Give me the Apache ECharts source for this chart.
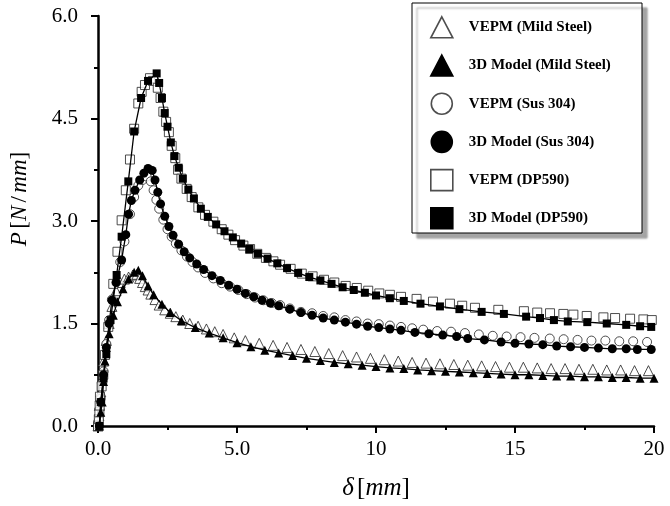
<!DOCTYPE html>
<html>
<head>
<meta charset="utf-8">
<script src="https://cdn.jsdelivr.net/npm/echarts@6/dist/echarts.min.js"></script>
<style>
html,body{margin:0;padding:0;background:#fff;}
#chart{width:670px;height:506px;}
</style>
</head>
<body>
<div id="chart"></div>
<script>
// ---- data (delta [mm], P [N/mm]) ----
var seriesNames = ['VEPM (Mild Steel)', '3D Model (Mild Steel)', 'VEPM (Sus 304)', '3D Model (Sus 304)', 'VEPM (DP590)', '3D Model (DP590)'];
var xTickLabels = ['0.0', '5.0', '10', '15', '20'];
var yTickLabels = ['0.0', '1.5', '3.0', '4.5', '6.0'];

var mildVepm = [[0,0],[0.03,0.15],[0.05,0.3],[0.1,0.5],[0.15,0.7],[0.2,0.95],[0.3,1.25],[0.4,1.5],[0.5,1.75],[0.65,1.98],[0.8,2.1],[0.95,2.15],[1.1,2.18],[1.25,2.21],[1.4,2.22],[1.5,2.16],[1.6,2.10],[1.7,2.04],[1.8,1.99],[1.9,1.93],[2.05,1.85],[2.2,1.77],[2.4,1.70],[2.6,1.65],[2.8,1.60],[3.05,1.55],[3.3,1.50],[3.6,1.46],[3.9,1.42],[4.2,1.38],[4.5,1.34],[4.9,1.29],[5.3,1.25],[5.8,1.21],[6.3,1.18],[6.8,1.15],[7.3,1.12],[7.8,1.09],[8.3,1.06],[8.8,1.03],[9.3,1.01],[9.8,0.99],[10.3,0.97],[10.8,0.95],[11.3,0.93],[11.8,0.92],[12.3,0.91],[12.8,0.90],[13.3,0.89],[13.8,0.88],[14.3,0.87],[14.8,0.86],[15.3,0.86],[15.8,0.85],[16.3,0.84],[16.8,0.84],[17.3,0.83],[17.8,0.83],[18.3,0.82],[18.8,0.82],[19.3,0.81],[19.8,0.81]];
var mildModel = [[0.05,0],[0.1,0.2],[0.15,0.35],[0.2,0.65],[0.25,0.95],[0.3,1.15],[0.4,1.35],[0.55,1.62],[0.7,1.82],[0.9,2.01],[1.1,2.15],[1.3,2.25],[1.45,2.28],[1.6,2.2],[1.8,2.05],[2.0,1.92],[2.3,1.78],[2.6,1.66],[3.0,1.54],[3.5,1.44],[4.0,1.36],[4.5,1.29],[5.0,1.22],[5.5,1.16],[6.0,1.11],[6.5,1.07],[7.0,1.03],[7.5,0.99],[8.0,0.96],[8.5,0.93],[9.0,0.91],[9.5,0.89],[10.0,0.87],[10.5,0.85],[11.0,0.84],[11.5,0.82],[12.0,0.81],[12.5,0.80],[13.0,0.79],[13.5,0.78],[14.0,0.77],[14.5,0.76],[15.0,0.75],[15.5,0.75],[16.0,0.74],[16.5,0.73],[17.0,0.73],[17.5,0.72],[18.0,0.72],[18.5,0.71],[19.0,0.71],[19.5,0.70],[20.0,0.70]];
var susVepm = [[0,0],[0.1,0.4],[0.2,0.8],[0.3,1.2],[0.4,1.55],[0.5,1.85],[0.65,2.1],[0.8,2.4],[0.95,2.7],[1.15,3.1],[1.3,3.35],[1.45,3.52],[1.6,3.6],[1.75,3.65],[1.9,3.58],[2.0,3.45],[2.1,3.31],[2.2,3.18],[2.35,3.02],[2.5,2.88],[2.65,2.77],[2.8,2.67],[3.0,2.57],[3.2,2.48],[3.4,2.40],[3.6,2.32],[3.85,2.24],[4.15,2.16],[4.45,2.09],[4.75,2.04],[5.05,1.99],[5.35,1.93],[5.65,1.88],[5.95,1.84],[6.25,1.80],[6.55,1.77],[6.9,1.72],[7.3,1.67],[7.7,1.65],[8.1,1.61],[8.5,1.59],[8.9,1.55],[9.3,1.53],[9.7,1.50],[10.1,1.49],[10.5,1.47],[10.9,1.45],[11.3,1.43],[11.7,1.41],[12.2,1.39],[12.7,1.38],[13.2,1.36],[13.7,1.34],[14.2,1.32],[14.7,1.31],[15.2,1.30],[15.7,1.29],[16.25,1.28],[16.75,1.27],[17.25,1.26],[17.75,1.25],[18.25,1.25],[18.75,1.24],[19.25,1.24],[19.75,1.23]];
var susModel = [[0.05,0],[0.1,0.35],[0.2,0.75],[0.3,1.15],[0.4,1.5],[0.5,1.84],[0.65,2.1],[0.85,2.43],[1.0,2.8],[1.1,3.1],[1.2,3.3],[1.33,3.45],[1.5,3.6],[1.65,3.7],[1.8,3.77],[1.95,3.74],[2.05,3.6],[2.15,3.42],[2.25,3.25],[2.4,3.07],[2.55,2.92],[2.7,2.79],[2.9,2.66],[3.1,2.55],[3.3,2.46],[3.55,2.37],[3.8,2.29],[4.1,2.20],[4.4,2.13],[4.7,2.06],[5.0,2.00],[5.3,1.94],[5.6,1.89],[5.9,1.84],[6.2,1.80],[6.5,1.76],[6.9,1.71],[7.3,1.66],[7.7,1.62],[8.1,1.58],[8.5,1.55],[8.9,1.52],[9.3,1.49],[9.7,1.46],[10.1,1.44],[10.5,1.42],[10.9,1.40],[11.4,1.37],[11.9,1.35],[12.4,1.33],[12.9,1.31],[13.3,1.28],[13.9,1.26],[14.5,1.23],[15.0,1.21],[15.5,1.20],[16.0,1.19],[16.5,1.17],[17.0,1.16],[17.5,1.15],[18.0,1.14],[18.5,1.13],[19.0,1.13],[19.4,1.12],[19.9,1.12]];
var dpVepm = [[0,0],[0.03,0.1],[0.05,0.2],[0.06,0.3],[0.07,0.43],[0.13,0.58],[0.19,0.75],[0.25,1.04],[0.37,1.45],[0.55,2.08],[0.7,2.55],[0.85,3.01],[1.0,3.45],[1.15,3.9],[1.3,4.35],[1.45,4.72],[1.57,4.89],[1.69,4.99],[1.87,5.09],[1.98,5.05],[2.15,4.95],[2.25,4.80],[2.35,4.60],[2.45,4.45],[2.55,4.30],[2.65,4.10],[2.78,3.92],[2.88,3.75],[3.0,3.62],[3.19,3.47],[3.37,3.35],[3.61,3.20],[3.85,3.09],[4.15,2.99],[4.45,2.88],[4.69,2.80],[4.93,2.72],[5.23,2.64],[5.47,2.59],[5.73,2.52],[6.04,2.46],[6.31,2.41],[6.55,2.36],[6.93,2.30],[7.33,2.23],[7.72,2.19],[8.13,2.14],[8.5,2.10],[8.91,2.05],[9.31,2.02],[9.72,1.98],[10.12,1.94],[10.5,1.92],[10.9,1.89],[11.46,1.86],[12.05,1.82],[12.66,1.79],[13.1,1.76],[13.56,1.73],[14.4,1.70],[15.32,1.68],[15.8,1.66],[16.26,1.65],[16.74,1.64],[17.1,1.63],[17.58,1.61],[18.18,1.59],[18.6,1.58],[19.14,1.57],[19.62,1.56],[19.92,1.55]];
var dpModel = [[0.05,0],[0.1,0.35],[0.2,0.7],[0.3,1.05],[0.45,1.55],[0.67,2.21],[0.85,2.77],[1.09,3.58],[1.3,4.31],[1.55,4.8],[1.8,5.05],[2.11,5.16],[2.2,5.02],[2.3,4.8],[2.4,4.58],[2.5,4.38],[2.62,4.15],[2.75,3.95],[2.9,3.78],[3.05,3.62],[3.25,3.46],[3.45,3.33],[3.7,3.18],[3.95,3.06],[4.25,2.95],[4.55,2.85],[4.85,2.76],[5.15,2.67],[5.45,2.59],[5.75,2.52],[6.1,2.45],[6.45,2.38],[6.8,2.31],[7.2,2.24],[7.6,2.18],[8.0,2.13],[8.4,2.08],[8.8,2.03],[9.2,1.99],[9.6,1.95],[10.0,1.91],[10.5,1.87],[11.0,1.83],[11.6,1.79],[12.3,1.75],[13.0,1.71],[13.8,1.67],[14.6,1.64],[15.4,1.60],[15.9,1.58],[16.4,1.55],[16.9,1.53],[17.6,1.52],[18.3,1.50],[19.0,1.48],[19.5,1.46],[19.9,1.45]];

var chart = echarts.init(document.getElementById('chart'), null, {renderer: 'canvas'});
var serif = '"Liberation Serif", "Times New Roman", serif';

function modelSeries(name, data, symbol, size) {
  return {
    name: name, type: 'line', data: data, symbol: symbol, symbolSize: size,
    showSymbol: true, smooth: false,
    lineStyle: {color: '#000', width: 1.3},
    itemStyle: {color: '#000', borderColor: '#000', borderWidth: 0},
    emphasis: {disabled: true}
  };
}
function vepmSeries(name, data, symbol, size) {
  return {
    name: name, type: 'scatter', data: data, symbol: symbol, symbolSize: size,
    itemStyle: {color: '#fff', borderColor: '#222', borderWidth: 1},
    emphasis: {disabled: true}
  };
}

var option = {
  animation: false,
  backgroundColor: '#fff',
  grid: {left: 98, right: 16, top: 16, bottom: 80, containLabel: false},
  xAxis: {
    type: 'value', min: 0, max: 20, interval: 5,
    name: '{i|δ} {n|[}{i|mm}{n|]}', nameLocation: 'middle', nameGap: 50,
    nameTextStyle: {
      rich: {
        i: {fontFamily: serif, fontStyle: 'italic', fontSize: 25, color: '#000'},
        n: {fontFamily: serif, fontSize: 25, color: '#000'}
      }
    },
    axisLine: {show: true, lineStyle: {color: '#000', width: 2.5}},
    axisTick: {show: true, length: 7, lineStyle: {color: '#000', width: 2}},
    minorTick: {show: true, splitNumber: 2, length: 4, lineStyle: {color: '#000', width: 2}},
    splitLine: {show: false},
    axisLabel: {
      margin: 13, color: '#000', fontFamily: serif, fontSize: 21,
      formatter: function (v) { return xTickLabels[Math.round(v / 5)]; }
    }
  },
  yAxis: {
    type: 'value', min: 0, max: 6, interval: 1.5,
    axisLine: {show: true, lineStyle: {color: '#000', width: 2.5}},
    axisTick: {show: true, length: 7, lineStyle: {color: '#000', width: 2}},
    minorTick: {show: true, splitNumber: 2, length: 4, lineStyle: {color: '#000', width: 2}},
    splitLine: {show: false},
    axisLabel: {
      margin: 20, color: '#000', fontFamily: serif, fontSize: 21,
      formatter: function (v) { return yTickLabels[Math.round(v / 1.5)]; }
    }
  },
  graphic: [{
    type: 'rect', z: 5, silent: true,
    shape: {x: 412, y: 3, width: 230, height: 230},
    style: {fill: '#fff', stroke: '#000', lineWidth: 1, shadowColor: 'rgba(0,0,0,0.35)', shadowOffsetX: 5, shadowOffsetY: 5, shadowBlur: 2}
  }, {
    type: 'text', z: 5, silent: true,
    x: 20, y: 199, rotation: Math.PI / 2,
    style: {
      text: '{i|P} {n|[}{i|N} {n|/} {i|mm}{n|]}',
      align: 'center', verticalAlign: 'middle',
      rich: {
        i: {fontFamily: serif, fontStyle: 'italic', fontSize: 23, fill: '#000'},
        n: {fontFamily: serif, fontSize: 23, fill: '#000'}
      }
    }
  }],
  legend: {
    orient: 'vertical', left: 430, top: 16, padding: 0, z: 10,
    itemWidth: 22, itemHeight: 21, itemGap: 15.6,
    selectedMode: false,
    textStyle: {fontFamily: serif, fontWeight: 'bold', fontSize: 15, color: '#000', padding: [0, 0, 0, 11]},
    itemStyle: {borderWidth: 1.6},
    data: [
      {name: seriesNames[0], icon: 'triangle'},
      {name: seriesNames[1], icon: 'triangle'},
      {name: seriesNames[2], icon: 'circle'},
      {name: seriesNames[3], icon: 'circle'},
      {name: seriesNames[4], icon: 'rect'},
      {name: seriesNames[5], icon: 'rect'}
    ]
  },
  series: [
    modelSeries(seriesNames[1], mildModel, 'triangle', 9),
    vepmSeries(seriesNames[0], mildVepm, 'triangle', 10),
    modelSeries(seriesNames[3], susModel, 'circle', 9),
    vepmSeries(seriesNames[2], susVepm, 'circle', 9),
    modelSeries(seriesNames[5], dpModel, 'rect', 8),
    vepmSeries(seriesNames[4], dpVepm, 'rect', 9)
  ]
};
chart.setOption(option);
</script>
</body>
</html>
